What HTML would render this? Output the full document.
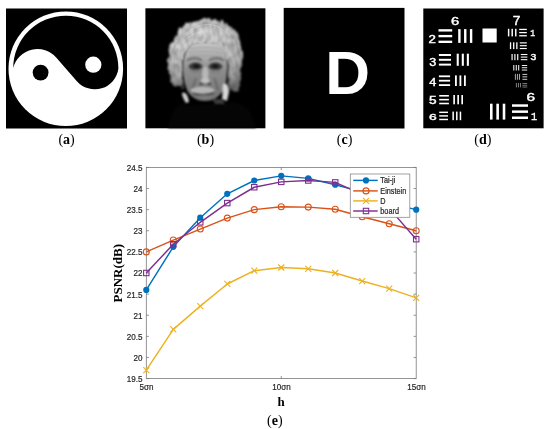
<!DOCTYPE html>
<html><head><meta charset="utf-8"><style>
html,body{margin:0;padding:0;background:#fff;}
body{width:550px;height:429px;overflow:hidden;}
svg{display:block;will-change:transform;}
</style></head><body>
<svg width="550" height="429" viewBox="0 0 550 429">
<rect x="6" y="8.5" width="121" height="120" fill="#000"/>
<circle cx="65.8" cy="68.8" r="57.3" fill="#fff"/>
<path d="M13.2,67.9 A25.1,25.1 0 0 1 56.42,57.70 L76.86,81.14 A23.8,23.8 0 0 0 118.4,68.58 A52.6,52.6 0 0 0 13.2,67.9 Z" fill="#000"/>
<circle cx="40.6" cy="72.55" r="7.9" fill="#000"/>
<circle cx="93.3" cy="64.7" r="8.1" fill="#fff"/>
<rect x="145.4" y="8.3" width="120" height="120" fill="#000"/>
<defs>
<filter id="bl1" color-interpolation-filters="sRGB" x="-20%" y="-20%" width="140%" height="140%"><feTurbulence type="fractalNoise" baseFrequency="0.25 0.12" numOctaves="2" seed="3" result="n"/><feDisplacementMap in="SourceGraphic" in2="n" scale="6" xChannelSelector="R" yChannelSelector="G" result="d"/><feTurbulence type="fractalNoise" baseFrequency="0.5 0.14" numOctaves="2" seed="7" result="n2"/><feColorMatrix in="n2" type="matrix" values="0 0 0 0 0  0 0 0 0 0  0 0 0 0 0  1.4 0 0 0 -0.5" result="m"/><feFlood flood-color="#555" result="fl"/><feComposite in="fl" in2="m" operator="in" result="dk"/><feComposite in="dk" in2="d" operator="atop" result="tex"/><feGaussianBlur in="tex" stdDeviation="0.8"/></filter>
<filter id="bl2" color-interpolation-filters="sRGB" x="-20%" y="-20%" width="140%" height="140%"><feGaussianBlur stdDeviation="1.0"/></filter>
<filter id="bl3" color-interpolation-filters="sRGB" x="-20%" y="-20%" width="140%" height="140%"><feGaussianBlur stdDeviation="0.6"/></filter>
<radialGradient id="hairg" cx="0.45" cy="0.3" r="0.75"><stop offset="0" stop-color="#e2e2e2"/><stop offset="0.5" stop-color="#cfcfcf"/><stop offset="0.85" stop-color="#a5a5a5"/><stop offset="1" stop-color="#6a6a6a"/></radialGradient>
<linearGradient id="faceg" x1="0" y1="0" x2="0" y2="1"><stop offset="0" stop-color="#c8c8c8"/><stop offset="0.22" stop-color="#b2b2b2"/><stop offset="0.45" stop-color="#8e8e8e"/><stop offset="1" stop-color="#727272"/></linearGradient>
</defs>
<g filter="url(#bl1)">
<path d="M206,19 C214,19 222,21 229,25 C236,31 240,38 241,46 C243,55 242,64 241,72 C241,80 240,86 238,91 C235,93 231,91 229,87 L226,70 C226,60 224,50 218,45 L206,43 L192,45 C186,50 184,58 184,66 L182,82 C180,86 177,88 173,86 C170,80 168,72 168,64 C168,54 170,46 173,39 C177,31 183,25 190,22 C196,19.5 201,19 206,19 Z" fill="url(#hairg)"/>
<path d="M182,60 C183.5,70 183.5,80 182,88 M228,60 C227,72 227.5,82 229,90" stroke="#404040" stroke-width="2.6" fill="none"/>
</g>
<g filter="url(#bl3)" stroke-width="0.8" fill="none" opacity="0.35">
<path d="M176,40 C182,34 190,28 198,26 M172,55 C174,45 180,38 186,34 M228,30 C234,36 238,44 239,52 M214,24 C222,26 230,32 234,40 M175,70 C173,62 174,54 178,48 M236,60 C238,68 238,78 236,86" stroke="#8a8a8a"/>
<path d="M190,30 C198,24 210,23 220,27 M182,44 C186,38 192,34 200,32" stroke="#f0f0f0"/>
</g>
<g filter="url(#bl2)">
<path d="M192,44 C198,41.5 214,41.5 220,44 C225,49 227,57 227,67 C227,78 226,86 222,92 C218,98 212,101 205,101 C198,101 192,98 188,92 C185,86 183,78 183,67 C183,57 186,48 192,44 Z" fill="url(#faceg)"/>
<path d="M190,49 C198,47 212,47 222,49 M189,52.5 C198,51 213,51 223,53 M190,56 C198,55 212,55 222,56.5" stroke="#929292" stroke-width="0.8" fill="none"/>
<path d="M187,60.5 C191,57.5 198,57.5 202,60.5 M209,60.5 C213,57.5 220,57.5 224,60.5" stroke="#666" stroke-width="2" fill="none"/>
<ellipse cx="195.6" cy="66.4" rx="6.8" ry="3.8" fill="#383838"/>
<ellipse cx="215.4" cy="66.4" rx="6.8" ry="3.8" fill="#383838"/>
<ellipse cx="196.3" cy="66.3" rx="3" ry="2" fill="#151515"/>
<ellipse cx="215.2" cy="66.3" rx="3" ry="2" fill="#151515"/>
<ellipse cx="196" cy="71.2" rx="5.5" ry="1.6" fill="#7e7e7e"/>
<ellipse cx="215.5" cy="71.2" rx="5.5" ry="1.6" fill="#7e7e7e"/>
<ellipse cx="205.3" cy="74" rx="3.3" ry="7.5" fill="#b8b8b8"/>
<ellipse cx="205.3" cy="80.5" rx="4.4" ry="2.6" fill="#c2c2c2"/>
<ellipse cx="201.3" cy="84" rx="2" ry="1.1" fill="#3a3a3a"/>
<ellipse cx="209.3" cy="84" rx="2" ry="1.1" fill="#3a3a3a"/>
<path d="M196,78 C194,83 193,87 192,90 M214.5,78 C216,83 217,87 218,90" stroke="#5a5a5a" stroke-width="1.2" fill="none"/>
<ellipse cx="202.5" cy="90.3" rx="12" ry="3.6" fill="#b4b4b4"/>
<path d="M193,93.5 C199,95 208,95 214,93" stroke="#3a3a3a" stroke-width="1.4" fill="none"/>
<ellipse cx="204" cy="97.5" rx="7.5" ry="2.6" fill="#7a7a7a"/>
<path d="M182,93 C185,91 188,95 189,102 L186,103 C184,100 182,96 182,93 Z" fill="#d0d0d0"/>
<path d="M223,84 C226,82 229,85 229,92 L227,101 L222,99 C223,94 222,88 223,84 Z" fill="#d6d6d6"/>
<path d="M212,99 L222,99 L230,112 L224,118 Z" fill="#3a3a3a"/>
<path d="M168,128 C172,110 178,102 184,104 L190,106 C200,104 210,104 224,104 C236,100 244,104 250,112 L256,128 Z" fill="#050505"/>
</g>
<rect x="283.7" y="7.9" width="120.8" height="120.6" fill="#000"/>
<text x="347.6" y="94.4" text-anchor="middle" font-family="Liberation Sans, sans-serif" font-weight="bold" font-size="62" fill="#fff">D</text>
<rect x="423.3" y="8.5" width="120.3" height="119.8" fill="#000"/><g fill="#fff"><rect x="438.5" y="29.20" width="13.70" height="2.34"/><rect x="438.5" y="34.93" width="13.70" height="2.34"/><rect x="438.5" y="40.66" width="13.70" height="2.34"/><rect x="458.20" y="29.1" width="2.39" height="13.80"/><rect x="464.06" y="29.1" width="2.39" height="13.80"/><rect x="469.91" y="29.1" width="2.39" height="13.80"/><rect x="438.9" y="54.00" width="12.10" height="1.97"/><rect x="438.9" y="58.82" width="12.10" height="1.97"/><rect x="438.9" y="63.63" width="12.10" height="1.97"/><rect x="456.70" y="53.7" width="2.07" height="12.10"/><rect x="461.77" y="53.7" width="2.07" height="12.10"/><rect x="466.83" y="53.7" width="2.07" height="12.10"/><rect x="438.9" y="75.40" width="11.20" height="1.80"/><rect x="438.9" y="79.80" width="11.20" height="1.80"/><rect x="438.9" y="84.20" width="11.20" height="1.80"/><rect x="455.00" y="75.4" width="1.83" height="10.60"/><rect x="459.48" y="75.4" width="1.83" height="10.60"/><rect x="463.97" y="75.4" width="1.83" height="10.60"/><rect x="439.2" y="95.00" width="9.70" height="1.58"/><rect x="439.2" y="98.86" width="9.70" height="1.58"/><rect x="439.2" y="102.72" width="9.70" height="1.58"/><rect x="453.30" y="95" width="1.64" height="9.30"/><rect x="457.33" y="95" width="1.64" height="9.30"/><rect x="461.36" y="95" width="1.64" height="9.30"/><rect x="439.2" y="111.60" width="8.80" height="1.46"/><rect x="439.2" y="115.17" width="8.80" height="1.46"/><rect x="439.2" y="118.74" width="8.80" height="1.46"/><rect x="452.40" y="111.6" width="1.49" height="8.60"/><rect x="456.05" y="111.6" width="1.49" height="8.60"/><rect x="459.71" y="111.6" width="1.49" height="8.60"/><rect x="482.5" y="28.5" width="14.2" height="14"/><rect x="507.90" y="28.8" width="1.46" height="7.60"/><rect x="511.47" y="28.8" width="1.46" height="7.60"/><rect x="515.04" y="28.8" width="1.46" height="7.60"/><rect x="519.2" y="28.80" width="7.60" height="1.29"/><rect x="519.2" y="31.96" width="7.60" height="1.29"/><rect x="519.2" y="35.11" width="7.60" height="1.29"/><rect x="509.90" y="42.3" width="1.29" height="6.80"/><rect x="513.06" y="42.3" width="1.29" height="6.80"/><rect x="516.21" y="42.3" width="1.29" height="6.80"/><rect x="519.8" y="42.30" width="7.00" height="1.15"/><rect x="519.8" y="45.12" width="7.00" height="1.15"/><rect x="519.8" y="47.95" width="7.00" height="1.15"/><rect x="511.50" y="54" width="1.15" height="6.20"/><rect x="514.32" y="54" width="1.15" height="6.20"/><rect x="517.15" y="54" width="1.15" height="6.20"/><rect x="520.8" y="54.00" width="6.60" height="1.05"/><rect x="520.8" y="56.57" width="6.60" height="1.05"/><rect x="520.8" y="59.15" width="6.60" height="1.05"/><rect x="513.30" y="65" width="1.00" height="5.50"/><rect x="515.75" y="65" width="1.00" height="5.50"/><rect x="518.20" y="65" width="1.00" height="5.50"/><rect x="521.8" y="65.00" width="5.40" height="0.93"/><rect x="521.8" y="67.28" width="5.40" height="0.93"/><rect x="521.8" y="69.57" width="5.40" height="0.93"/><g opacity="0.8"><rect x="514.90" y="73.9" width="0.83" height="5.90"/><rect x="516.93" y="73.9" width="0.83" height="5.90"/><rect x="518.97" y="73.9" width="0.83" height="5.90"/><rect x="522.4" y="73.90" width="4.80" height="1.00"/><rect x="522.4" y="76.35" width="4.80" height="1.00"/><rect x="522.4" y="78.80" width="4.80" height="1.00"/></g><g opacity="0.6"><rect x="515.90" y="83" width="0.83" height="4.40"/><rect x="517.93" y="83" width="0.83" height="4.40"/><rect x="519.97" y="83" width="0.83" height="4.40"/><rect x="522.4" y="83.00" width="4.80" height="0.75"/><rect x="522.4" y="84.83" width="4.80" height="0.75"/><rect x="522.4" y="86.65" width="4.80" height="0.75"/></g><rect x="490.00" y="103.7" width="2.59" height="15.90"/><rect x="496.35" y="103.7" width="2.59" height="15.90"/><rect x="502.71" y="103.7" width="2.59" height="15.90"/><rect x="512" y="104.30" width="16.00" height="2.49"/><rect x="512" y="110.40" width="16.00" height="2.49"/><rect x="512" y="116.51" width="16.00" height="2.49"/></g><g fill="#fff" stroke="#fff" stroke-width="0.4"><text transform="translate(451.06,25.38) scale(1.249,1)" font-family="Liberation Sans, sans-serif" font-size="11.83">6</text><text transform="translate(428.44,42.90) scale(1.326,1)" font-family="Liberation Sans, sans-serif" font-size="10.00">2</text><text transform="translate(429.30,65.69) scale(1.188,1)" font-family="Liberation Sans, sans-serif" font-size="10.56">3</text><text transform="translate(429.35,85.90) scale(1.173,1)" font-family="Liberation Sans, sans-serif" font-size="10.87">4</text><text transform="translate(429.06,104.00) scale(1.306,1)" font-family="Liberation Sans, sans-serif" font-size="10.43">5</text><text transform="translate(428.90,120.30) scale(1.411,1)" font-family="Liberation Sans, sans-serif" font-size="9.86">6</text><text transform="translate(512.82,24.90) scale(1.062,1)" font-family="Liberation Sans, sans-serif" font-size="12.90">7</text><text transform="translate(530.23,36.20) scale(0.838,1)" font-family="Liberation Mono, monospace" font-size="9.70">1</text><text transform="translate(530.38,60.11) scale(1.194,1)" font-family="Liberation Sans, sans-serif" font-size="8.73">3</text><text transform="translate(526.43,101.19) scale(1.387,1)" font-family="Liberation Sans, sans-serif" font-size="11.13">6</text><text transform="translate(530.99,119.60) scale(0.887,1)" font-family="Liberation Mono, monospace" font-size="11.52">1</text></g>
<text transform="translate(66.6,144) scale(1.0,1)" text-anchor="middle" font-family="Liberation Serif, serif" font-size="14" fill="#000">(<tspan font-weight="bold">a</tspan>)</text><text transform="translate(205.5,144.3) scale(1.0,1)" text-anchor="middle" font-family="Liberation Serif, serif" font-size="14" fill="#000">(<tspan font-weight="bold">b</tspan>)</text><text transform="translate(344.6,144) scale(1.0,1)" text-anchor="middle" font-family="Liberation Serif, serif" font-size="14" fill="#000">(<tspan font-weight="bold">c</tspan>)</text><text transform="translate(482.8,144.2) scale(1.0,1)" text-anchor="middle" font-family="Liberation Serif, serif" font-size="14" fill="#000">(<tspan font-weight="bold">d</tspan>)</text><text transform="translate(274.9,424.5) scale(1.0,1)" text-anchor="middle" font-family="Liberation Serif, serif" font-size="14" fill="#000">(<tspan font-weight="bold">e</tspan>)</text>
<rect x="146.3" y="167.4" width="269.90" height="211.20" fill="none" stroke="#7a7a7a" stroke-width="0.8"/>
<path d="M146.3,378.60h2.6M416.2,378.60h-2.6M146.3,357.48h2.6M416.2,357.48h-2.6M146.3,336.36h2.6M416.2,336.36h-2.6M146.3,315.24h2.6M416.2,315.24h-2.6M146.3,294.12h2.6M416.2,294.12h-2.6M146.3,273.00h2.6M416.2,273.00h-2.6M146.3,251.88h2.6M416.2,251.88h-2.6M146.3,230.76h2.6M416.2,230.76h-2.6M146.3,209.64h2.6M416.2,209.64h-2.6M146.3,188.52h2.6M416.2,188.52h-2.6M146.3,167.40h2.6M416.2,167.40h-2.6M281.25,378.6v-2.6M281.25,167.4v2.6" stroke="#7a7a7a" stroke-width="0.8" fill="none"/>
<g transform="scale(0.92,1)" font-family="Liberation Sans, sans-serif" font-size="8.8" fill="#262626" stroke="#262626" stroke-width="0.2"><text x="154.78" y="382.05" text-anchor="end">19.5</text><text x="154.78" y="360.93" text-anchor="end">20</text><text x="154.78" y="339.81" text-anchor="end">20.5</text><text x="154.78" y="318.69" text-anchor="end">21</text><text x="154.78" y="297.57" text-anchor="end">21.5</text><text x="154.78" y="276.45" text-anchor="end">22</text><text x="154.78" y="255.33" text-anchor="end">22.5</text><text x="154.78" y="234.21" text-anchor="end">23</text><text x="154.78" y="213.09" text-anchor="end">23.5</text><text x="154.78" y="191.97" text-anchor="end">24</text><text x="154.78" y="170.85" text-anchor="end">24.5</text><text x="159.35" y="390.3" text-anchor="middle">5σn</text><text x="306.03" y="390.3" text-anchor="middle">10σn</text><text x="452.72" y="390.3" text-anchor="middle">15σn</text></g>
<polyline points="146.30,289.90 173.29,246.81 200.28,217.67 227.27,193.80 254.26,180.49 281.25,175.85 308.24,178.38 335.23,184.72 362.22,191.90 389.21,203.30 416.20,209.64" fill="none" stroke="#0072BD" stroke-width="1.45" stroke-linejoin="round"/>
<circle cx="146.30" cy="289.90" r="3.1" fill="#0072BD"/>
<circle cx="173.29" cy="246.81" r="3.1" fill="#0072BD"/>
<circle cx="200.28" cy="217.67" r="3.1" fill="#0072BD"/>
<circle cx="227.27" cy="193.80" r="3.1" fill="#0072BD"/>
<circle cx="254.26" cy="180.49" r="3.1" fill="#0072BD"/>
<circle cx="281.25" cy="175.85" r="3.1" fill="#0072BD"/>
<circle cx="308.24" cy="178.38" r="3.1" fill="#0072BD"/>
<circle cx="335.23" cy="184.72" r="3.1" fill="#0072BD"/>
<circle cx="362.22" cy="191.90" r="3.1" fill="#0072BD"/>
<circle cx="389.21" cy="203.30" r="3.1" fill="#0072BD"/>
<circle cx="416.20" cy="209.64" r="3.1" fill="#0072BD"/>
<polyline points="146.30,251.88 173.29,240.05 200.28,229.07 227.27,218.09 254.26,209.64 281.25,206.68 308.24,207.11 335.23,209.22 362.22,216.82 389.21,223.79 416.20,230.76" fill="none" stroke="#D95319" stroke-width="1.45" stroke-linejoin="round"/>
<circle cx="146.30" cy="251.88" r="3.0" fill="none" stroke="#D95319" stroke-width="1.1"/>
<circle cx="173.29" cy="240.05" r="3.0" fill="none" stroke="#D95319" stroke-width="1.1"/>
<circle cx="200.28" cy="229.07" r="3.0" fill="none" stroke="#D95319" stroke-width="1.1"/>
<circle cx="227.27" cy="218.09" r="3.0" fill="none" stroke="#D95319" stroke-width="1.1"/>
<circle cx="254.26" cy="209.64" r="3.0" fill="none" stroke="#D95319" stroke-width="1.1"/>
<circle cx="281.25" cy="206.68" r="3.0" fill="none" stroke="#D95319" stroke-width="1.1"/>
<circle cx="308.24" cy="207.11" r="3.0" fill="none" stroke="#D95319" stroke-width="1.1"/>
<circle cx="335.23" cy="209.22" r="3.0" fill="none" stroke="#D95319" stroke-width="1.1"/>
<circle cx="362.22" cy="216.82" r="3.0" fill="none" stroke="#D95319" stroke-width="1.1"/>
<circle cx="389.21" cy="223.79" r="3.0" fill="none" stroke="#D95319" stroke-width="1.1"/>
<circle cx="416.20" cy="230.76" r="3.0" fill="none" stroke="#D95319" stroke-width="1.1"/>
<polyline points="146.30,370.15 173.29,329.39 200.28,306.16 227.27,283.98 254.26,270.68 281.25,267.51 308.24,268.78 335.23,273.00 362.22,281.03 389.21,288.63 416.20,297.92" fill="none" stroke="#EDB120" stroke-width="1.45" stroke-linejoin="round"/>
<path d="M143.30,367.15L149.30,373.15M143.30,373.15L149.30,367.15" stroke="#EDB120" stroke-width="1.1" fill="none"/>
<path d="M170.29,326.39L176.29,332.39M170.29,332.39L176.29,326.39" stroke="#EDB120" stroke-width="1.1" fill="none"/>
<path d="M197.28,303.16L203.28,309.16M197.28,309.16L203.28,303.16" stroke="#EDB120" stroke-width="1.1" fill="none"/>
<path d="M224.27,280.98L230.27,286.98M224.27,286.98L230.27,280.98" stroke="#EDB120" stroke-width="1.1" fill="none"/>
<path d="M251.26,267.68L257.26,273.68M251.26,273.68L257.26,267.68" stroke="#EDB120" stroke-width="1.1" fill="none"/>
<path d="M278.25,264.51L284.25,270.51M278.25,270.51L284.25,264.51" stroke="#EDB120" stroke-width="1.1" fill="none"/>
<path d="M305.24,265.78L311.24,271.78M305.24,271.78L311.24,265.78" stroke="#EDB120" stroke-width="1.1" fill="none"/>
<path d="M332.23,270.00L338.23,276.00M332.23,276.00L338.23,270.00" stroke="#EDB120" stroke-width="1.1" fill="none"/>
<path d="M359.22,278.03L365.22,284.03M359.22,284.03L365.22,278.03" stroke="#EDB120" stroke-width="1.1" fill="none"/>
<path d="M386.21,285.63L392.21,291.63M386.21,291.63L392.21,285.63" stroke="#EDB120" stroke-width="1.1" fill="none"/>
<path d="M413.20,294.92L419.20,300.92M413.20,300.92L419.20,294.92" stroke="#EDB120" stroke-width="1.1" fill="none"/>
<polyline points="146.30,273.00 173.29,244.28 200.28,222.31 227.27,203.09 254.26,187.25 281.25,181.89 308.24,180.49 335.23,182.40 362.22,194.43 389.21,208.37 416.20,239.21" fill="none" stroke="#7E2F8E" stroke-width="1.45" stroke-linejoin="round"/>
<rect x="143.60" y="270.30" width="5.40" height="5.40" fill="none" stroke="#7E2F8E" stroke-width="1.1"/>
<rect x="170.59" y="241.58" width="5.40" height="5.40" fill="none" stroke="#7E2F8E" stroke-width="1.1"/>
<rect x="197.58" y="219.61" width="5.40" height="5.40" fill="none" stroke="#7E2F8E" stroke-width="1.1"/>
<rect x="224.57" y="200.39" width="5.40" height="5.40" fill="none" stroke="#7E2F8E" stroke-width="1.1"/>
<rect x="251.56" y="184.55" width="5.40" height="5.40" fill="none" stroke="#7E2F8E" stroke-width="1.1"/>
<rect x="278.55" y="179.19" width="5.40" height="5.40" fill="none" stroke="#7E2F8E" stroke-width="1.1"/>
<rect x="305.54" y="177.79" width="5.40" height="5.40" fill="none" stroke="#7E2F8E" stroke-width="1.1"/>
<rect x="332.53" y="179.70" width="5.40" height="5.40" fill="none" stroke="#7E2F8E" stroke-width="1.1"/>
<rect x="359.52" y="191.73" width="5.40" height="5.40" fill="none" stroke="#7E2F8E" stroke-width="1.1"/>
<rect x="386.51" y="205.67" width="5.40" height="5.40" fill="none" stroke="#7E2F8E" stroke-width="1.1"/>
<rect x="413.50" y="236.51" width="5.40" height="5.40" fill="none" stroke="#7E2F8E" stroke-width="1.1"/>
<rect x="350.3" y="174.0" width="59.5" height="43.3" fill="#fff" stroke="#8a8a8a" stroke-width="0.8"/>
<line x1="353.2" y1="180.4" x2="377.7" y2="180.4" stroke="#0072BD" stroke-width="1.45"/>
<circle cx="366.00" cy="180.40" r="3.1" fill="#0072BD"/>
<text transform="translate(380.3,183.15) scale(0.89,1)" font-family="Liberation Sans, sans-serif" font-size="8.2" fill="#262626" stroke="#262626" stroke-width="0.2">Tai-ji</text>
<line x1="353.2" y1="190.9" x2="377.7" y2="190.9" stroke="#D95319" stroke-width="1.45"/>
<circle cx="366.00" cy="190.90" r="3.0" fill="none" stroke="#D95319" stroke-width="1.1"/>
<text transform="translate(380.3,193.65) scale(0.89,1)" font-family="Liberation Sans, sans-serif" font-size="8.2" fill="#262626" stroke="#262626" stroke-width="0.2">Einstein</text>
<line x1="353.2" y1="200.9" x2="377.7" y2="200.9" stroke="#EDB120" stroke-width="1.45"/>
<path d="M363.00,197.90L369.00,203.90M363.00,203.90L369.00,197.90" stroke="#EDB120" stroke-width="1.1" fill="none"/>
<text transform="translate(380.3,203.65) scale(0.89,1)" font-family="Liberation Sans, sans-serif" font-size="8.2" fill="#262626" stroke="#262626" stroke-width="0.2">D</text>
<line x1="353.2" y1="211.0" x2="377.7" y2="211.0" stroke="#7E2F8E" stroke-width="1.45"/>
<rect x="363.30" y="208.30" width="5.40" height="5.40" fill="none" stroke="#7E2F8E" stroke-width="1.1"/>
<text transform="translate(380.3,213.75) scale(0.89,1)" font-family="Liberation Sans, sans-serif" font-size="8.2" fill="#262626" stroke="#262626" stroke-width="0.2">board</text>
<text x="281" y="405.6" text-anchor="middle" font-family="Liberation Serif, serif" font-weight="bold" font-size="13" fill="#000">h</text>
<text transform="translate(121.6,273.2) rotate(-90)" text-anchor="middle" font-family="Liberation Serif, serif" font-weight="bold" font-size="13" fill="#000">PSNR(dB)</text>
</svg>
</body></html>
